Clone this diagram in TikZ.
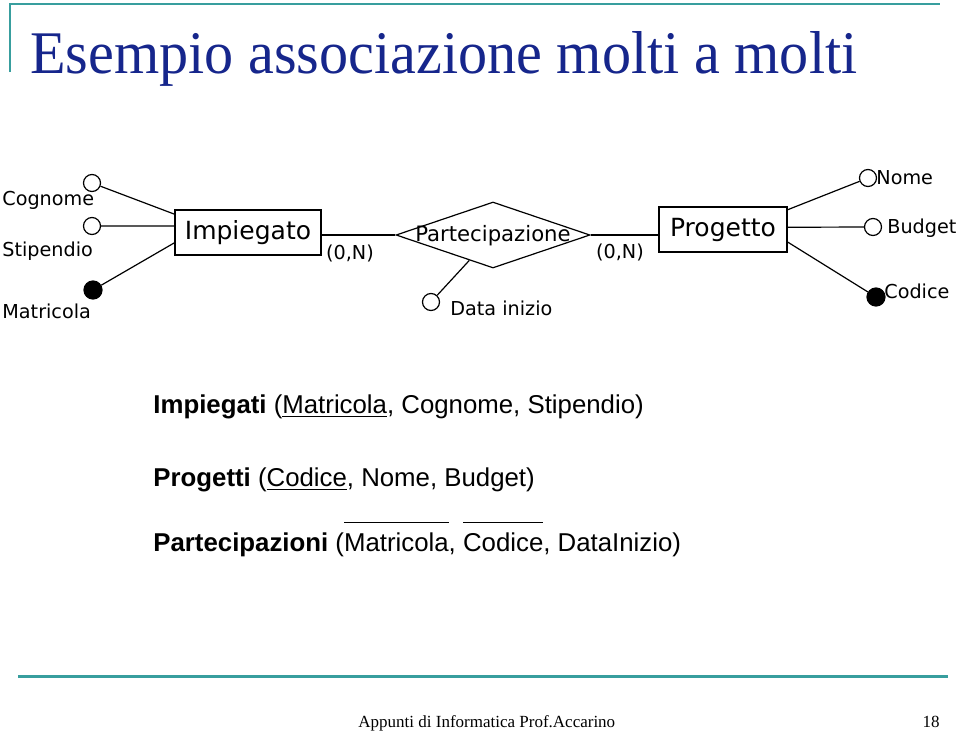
\documentclass[tikz,border=0pt]{standalone}
\usepackage{fontspec}
\usepackage{graphicx}
\setmainfont{Liberation Serif}
\setsansfont{DejaVu Sans}
\newfontfamily\arialfont{Liberation Sans}
\usetikzlibrary{shapes.geometric}
\definecolor{slideteal}{RGB}{56,158,158}
\definecolor{titleblue}{RGB}{22,38,140}
\newcommand\keybar[1]{\setbox0\hbox{#1}\rlap{\raisebox{14pt}{\rule{\wd0}{0.6pt}}}\box0}
\tikzset{entity/.style={shape=rectangle, draw=black, line width=0.7pt, minimum height=22.5pt, inner sep=0pt, font=\sffamily\fontsize{12.5}{12.5}\selectfont}}
\tikzset{attr/.style={shape=circle, draw=black, line width=0.6pt, fill=white, minimum size=8.5pt, inner sep=0pt}}
\tikzset{keyattr/.style={attr, fill=black}}
\tikzset{erlabel/.style={anchor=west, inner sep=0pt, font=\sffamily\fontsize{9.6}{9.6}\selectfont}}
\tikzset{reltext/.style={anchor=base west, inner sep=0pt, font=\arialfont\fontsize{12.9}{12.9}\selectfont}}
\tikzset{every edge/.style={draw=black, line width=0.6pt}}

\begin{document}
\begin{tikzpicture}[x=0.5pt, y=-0.5pt]
  \useasboundingbox[fill=white] (0,0) rectangle (960,734);

  % slide frame
  \draw[slideteal, line width=1pt] (10,72) -- (10,4) -- (940,4);
  \node[anchor=base west, inner sep=0pt, text=titleblue] (title) at (30,73)
    {\resizebox{413.5pt}{21pt}{Esempio associazione molti a molti}};

  % entities and relationship
  \node[entity, minimum width=73pt] (imp) at (248,232.5) {Impiegato};
  \node[entity, minimum width=64pt] (prog) at (723,229.5) {Progetto};
  \node[shape=diamond, draw=black, line width=0.6pt, minimum width=97pt, minimum height=33pt, inner sep=0pt] (rel) at (493,235) {};
  \node[inner sep=0pt, font=\sffamily\fontsize{10.6}{10.6}\selectfont] (relL) at (493,236) {Partecipazione};

  \node[inner sep=0pt, font=\sffamily\fontsize{9.6}{9.6}\selectfont] (cardA) at (350,253) {(0,N)};
  \node[inner sep=0pt, font=\sffamily\fontsize{9.6}{9.6}\selectfont] (cardB) at (620,252) {(0,N)};

  % attributes
  \node[attr] (cognome) at (92,183) {};
  \node[attr] (stipendio) at (92,226) {};
  \node[keyattr, minimum size=9pt] (matricola) at (93,290) {};
  \node[attr] (datainizio) at (431,302) {};
  \node[attr] (nome) at (868,178) {};
  \node[attr] (budget) at (873,227) {};
  \node[keyattr, minimum size=9pt] (codice) at (876,297) {};

  \node[erlabel] (cognomeL) at (2,200) {Cognome};
  \node[erlabel] (stipendioL) at (2,251) {Stipendio};
  \node[erlabel] (matricolaL) at (2,311) {Matricola};
  \node[erlabel] (datainizioL) at (450,308) {Data inizio};
  \node[erlabel] (nomeL) at (876,178) {Nome};
  \node[erlabel] (budgetL) at (887,228) {Budget};
  \node[erlabel] (codiceL) at (884,291) {Codice};

  \path (cognome) edge (imp.166);
  \path (stipendio) edge (imp.175);
  \path (matricola) edge (imp.188);

  \path (imp.east |- rel.west) edge (rel.west);
  \path (rel.east) edge (rel.east -| prog.west);
  \path (datainizio) edge (rel.227);

  \path (nome) edge (prog.17);
  \path (budget) edge (prog.2);
  \path (codice) edge (prog.349);

  % relational schema
  \node[reltext] (impiegati) at (153,413) {\textbf{Impiegati} (\underline{Matricola}, Cognome, Stipendio)};
  \node[reltext] (progetti) at (153,486) {\textbf{Progetti} (\underline{Codice}, Nome, Budget)};
  \node[reltext] (partecipazioni) at (153,551) {\textbf{Partecipazioni} (\keybar{Matricola}, \keybar{Codice}, DataInizio)};

  % footer
  \draw[slideteal, line width=1.5pt] (18,676) -- (948,676);
  \node[anchor=base west, inner sep=0pt, font=\fontsize{8.5}{8.5}\selectfont] (footer) at (358,727) {Appunti di Informatica Prof.Accarino};
  \node[anchor=base east, inner sep=0pt, font=\fontsize{8.5}{8.5}\selectfont] (page) at (940,727) {18};
\end{tikzpicture}
\end{document}
